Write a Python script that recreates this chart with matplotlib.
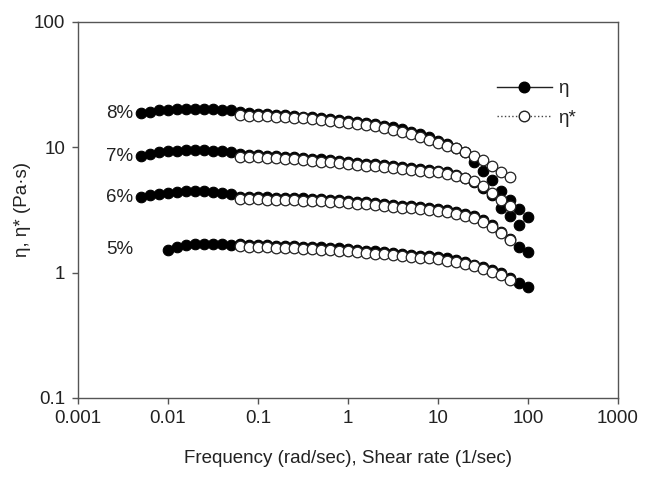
import matplotlib
matplotlib.use("Agg")
import matplotlib.pyplot as plt
from matplotlib.lines import Line2D

plt.rcParams['font.family'] = ['Liberation Sans', 'DejaVu Sans']

# Steady shear rate (1/sec) grid for eta (filled symbols)
shear_rate = [0.005, 0.0063, 0.0079, 0.01, 0.0126, 0.0158, 0.02, 0.0251, 0.0316, 0.0398,
              0.0501, 0.0631, 0.0794, 0.1, 0.126, 0.158, 0.2, 0.251, 0.316, 0.398,
              0.501, 0.631, 0.794, 1, 1.26, 1.58, 2, 2.51, 3.16, 3.98,
              5.01, 6.31, 7.94, 10, 12.6, 15.8, 20, 25.1, 31.6, 39.8,
              50.1, 63.1, 79.4, 100]

# Frequency (rad/sec) grid for eta* (open symbols)
frequency = [0.0631, 0.0794, 0.1, 0.126, 0.158, 0.2, 0.251, 0.316, 0.398, 0.501,
             0.631, 0.794, 1, 1.26, 1.58, 2, 2.51, 3.16, 3.98, 5.01,
             6.31, 7.94, 10, 12.6, 15.8, 20, 25.1, 31.6, 39.8, 50.1, 63.1]

concentrations = ['8%', '7%', '6%', '5%']

# eta (steady shear viscosity, Pa.s)
eta_8 = [18.7, 19.3, 19.7, 19.9, 20.1, 20.2, 20.2, 20.2, 20.1, 20.0,
         19.8, 19.0, 18.8, 18.6, 18.4, 18.2, 18.0, 17.8, 17.6, 17.4,
         17.1, 16.8, 16.5, 16.3, 16.0, 15.7, 15.3, 14.9, 14.4, 13.9,
         13.3, 12.7, 12.0, 11.3, 10.6, 9.9, 9.1, 7.6, 6.5, 5.5,
         4.5, 3.8, 3.2, 2.76]
eta_7 = [8.5, 8.9, 9.1, 9.3, 9.4, 9.5, 9.5, 9.5, 9.4, 9.3,
         9.1, 8.8, 8.7, 8.65, 8.6, 8.5, 8.4, 8.3, 8.2, 8.1,
         8.0, 7.9, 7.75, 7.65, 7.5, 7.4, 7.3, 7.2, 7.1, 6.95,
         6.85, 6.7, 6.6, 6.45, 6.3, 6.05, 5.7, 5.3, 4.75, 4.15,
         3.3, 2.85, 2.4]
eta_6 = [4.0, 4.15, 4.25, 4.35, 4.4, 4.45, 4.45, 4.45, 4.4, 4.35,
         4.25, 4.05, 4.0, 3.99, 3.98, 3.97, 3.95, 3.93, 3.91, 3.88,
         3.85, 3.82, 3.78, 3.73, 3.69, 3.64, 3.59, 3.54, 3.48, 3.43,
         3.38, 3.33, 3.28, 3.22, 3.15, 3.07, 2.96, 2.84, 2.65, 2.41,
         2.12, 1.85, 1.61, 1.45]
eta_5 = [1.53, 1.6, 1.65, 1.68, 1.7, 1.7, 1.69, 1.67,
         1.68, 1.67, 1.66, 1.65, 1.64, 1.63, 1.62, 1.61, 1.6, 1.59,
         1.57, 1.56, 1.54, 1.52, 1.5, 1.48, 1.46, 1.44, 1.41, 1.39,
         1.37, 1.35, 1.33, 1.3, 1.26, 1.22, 1.16, 1.11, 1.05, 0.99,
         0.91, 0.82, 0.77]

# eta* (complex viscosity, Pa.s)
etastar_8 = [18.0, 17.9, 17.8, 17.7, 17.6, 17.4, 17.2, 17.0, 16.8, 16.5,
             16.2, 15.95, 15.7, 15.4, 15.1, 14.7, 14.3, 13.8, 13.3, 12.7,
             12.1, 11.5, 10.9, 10.3, 9.8, 9.2, 8.6, 7.9, 7.1, 6.4, 5.8]
etastar_7 = [8.4, 8.35, 8.3, 8.25, 8.2, 8.1, 8.0, 7.9, 7.8, 7.7,
             7.6, 7.45, 7.35, 7.25, 7.15, 7.05, 6.95, 6.85, 6.7, 6.6,
             6.5, 6.4, 6.3, 6.15, 5.95, 5.7, 5.35, 4.9, 4.35, 3.8, 3.4]
etastar_6 = [3.85, 3.85, 3.84, 3.83, 3.82, 3.8, 3.78, 3.76, 3.73, 3.7,
             3.67, 3.63, 3.59, 3.55, 3.5, 3.45, 3.4, 3.35, 3.3, 3.25,
             3.2, 3.15, 3.1, 3.03, 2.95, 2.85, 2.73, 2.55, 2.32, 2.07, 1.82]
etastar_5 = [1.62, 1.61, 1.6, 1.59, 1.58, 1.57, 1.56, 1.55, 1.54, 1.53,
             1.51, 1.5, 1.48, 1.46, 1.44, 1.42, 1.4, 1.38, 1.36, 1.34,
             1.32, 1.3, 1.28, 1.25, 1.21, 1.17, 1.12, 1.07, 1.01, 0.95, 0.88]

eta_series = [eta_8, eta_7, eta_6, eta_5]
etastar_series = [etastar_8, etastar_7, etastar_6, etastar_5]

x_ticks = [0.001, 0.01, 0.1, 1, 10, 100, 1000]
x_ticklabels = ['0.001', '0.01', '0.1', '1', '10', '100', '1000']
y_ticks = [0.1, 1, 10, 100]
y_ticklabels = ['0.1', '1', '10', '100']

fig = plt.figure(figsize=(6.46, 4.78), dpi=100)
ax = fig.add_axes([0.1207, 0.1674, 0.8359, 0.7866])
ax.set_xscale('log')
ax.set_yscale('log')
ax.set_xlim(0.001, 1000)
ax.set_ylim(0.1, 100)

ms = 7.6
for label, eta, es in zip(concentrations, eta_series, etastar_series):
    xs = shear_rate[len(shear_rate) - len(eta):] if label == '5%' else shear_rate[:len(eta)]
    ax.plot(xs, eta, linestyle='none', marker='o', ms=ms, mfc='black',
            mec='black', mew=0.8, zorder=2)
    ax.plot(frequency[:len(es)], es, linestyle='none', marker='o', ms=ms,
            mfc='white', mec='#222222', mew=0.9, zorder=3)
    ax.text(0.0041, eta[0], label, ha='right', va='center', fontsize=13.5,
            color='#222222')

ax.set_xticks(x_ticks)
ax.set_xticklabels(x_ticklabels)
ax.set_yticks(y_ticks)
ax.set_yticklabels(y_ticklabels)
ax.minorticks_off()
ax.tick_params(direction='out', length=4, width=1, colors='#555555',
               labelcolor='#222222', labelsize=13.5, pad=5)
for s in ax.spines.values():
    s.set_color('#555555')
    s.set_linewidth(1.0)

ax.set_xlabel('Frequency (rad/sec), Shear rate (1/sec)', fontsize=13.5,
              color='#222222', labelpad=16)
ax.set_ylabel('η, η* (Pa·s)', fontsize=13.5, color='#222222', labelpad=2)

handles = [
    Line2D([], [], color='#222222', lw=1.0, ls='-', marker='o', ms=ms,
           mfc='black', mec='black'),
    Line2D([], [], color='#444444', lw=1.0, ls=':', marker='o', ms=ms,
           mfc='white', mec='#222222'),
]
leg = ax.legend(handles, ['η', 'η*'], loc='upper left',
                bbox_to_anchor=(0.745, 0.89), frameon=False, fontsize=13.5,
                handlelength=2.9, handletextpad=0.35, labelspacing=0.65,
                labelcolor='#222222')

fig.savefig('out.png', dpi=100)
